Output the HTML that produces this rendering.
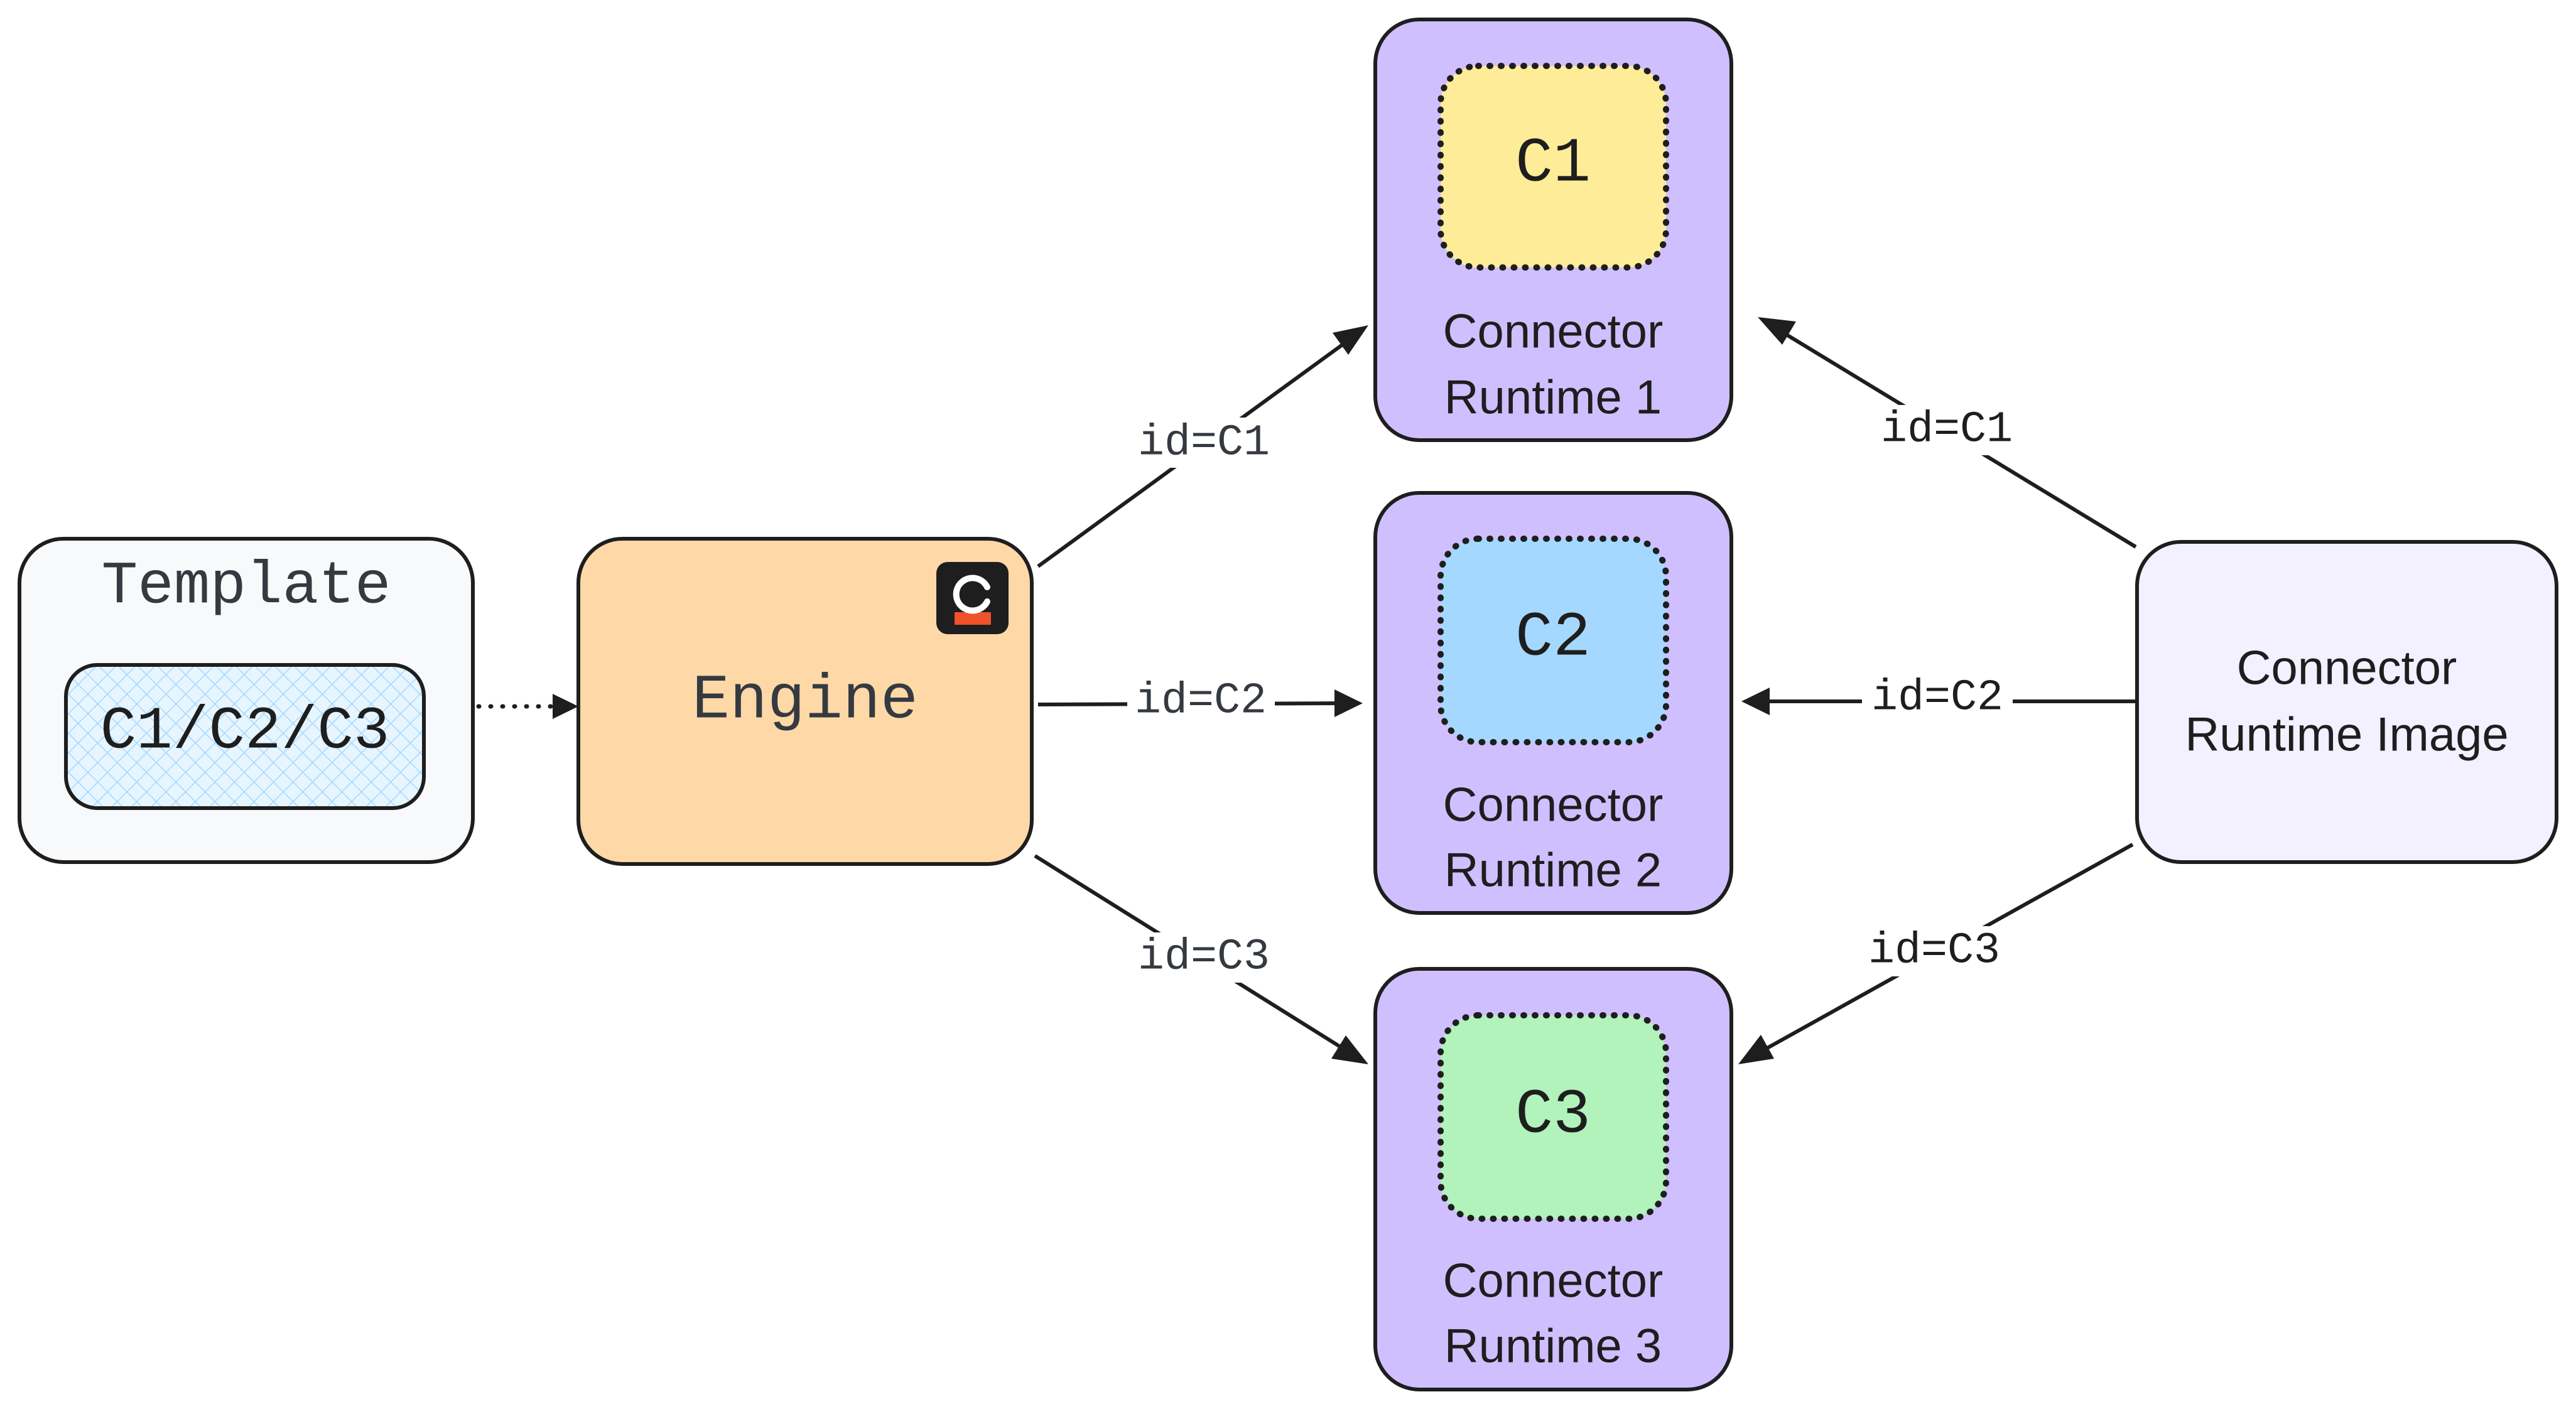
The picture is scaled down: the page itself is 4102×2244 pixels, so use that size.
<!DOCTYPE html>
<html><head><meta charset="utf-8"><style>
html,body{margin:0;padding:0;background:#fff;}
svg{display:block;}
.m{font-family:"Liberation Mono",monospace;fill:#1e1e1e;}
.h{font-family:"Liberation Sans",sans-serif;fill:#1e1e1e;}
</style></head><body>
<svg width="4102" height="2244" viewBox="0 0 4102 2244" xmlns="http://www.w3.org/2000/svg">
<defs>
<pattern id="hatch" width="22" height="22" patternUnits="userSpaceOnUse" patternTransform="rotate(45)">
<rect width="22" height="22" fill="#e7f5ff"/>
<line x1="0" y1="0" x2="0" y2="22" stroke="#a5d8ff" stroke-width="3"/>
<line x1="0" y1="0" x2="22" y2="0" stroke="#a5d8ff" stroke-width="3"/>
</pattern>
</defs>
<g stroke="#1e1e1e" stroke-width="6">
<rect x="31" y="858" width="722" height="515" rx="70" fill="#f8f9fa"/>
<rect x="105" y="1059" width="570" height="228" rx="50" fill="url(#hatch)"/>
<rect x="921" y="858" width="722" height="518" rx="70" fill="#ffd8a8"/>
<rect x="2190" y="31" width="567" height="670" rx="70" fill="#d0bfff"/>
<rect x="2294" y="105" width="359" height="321" rx="60" fill="#ffec99" stroke-dasharray="1 17" stroke-linecap="round" stroke-width="10"/>
<rect x="2190" y="785" width="567" height="669" rx="70" fill="#d0bfff"/>
<rect x="2294" y="858" width="359" height="324" rx="60" fill="#a5d8ff" stroke-dasharray="1 17" stroke-linecap="round" stroke-width="10"/>
<rect x="2190" y="1543" width="567" height="670" rx="70" fill="#d0bfff"/>
<rect x="2294" y="1617" width="359" height="324" rx="60" fill="#b2f2bb" stroke-dasharray="1 17" stroke-linecap="round" stroke-width="10"/>
<rect x="3403" y="863" width="668" height="510" rx="70" fill="#f3f0ff"/>
<line x1="762" y1="1125" x2="880" y2="1125" stroke-dasharray="1 18" stroke-linecap="round" stroke-width="7"/>
<line x1="1653" y1="902" x2="2150" y2="540"/>
<line x1="1653" y1="1122" x2="2140" y2="1120"/>
<line x1="1648" y1="1363" x2="2150" y2="1677"/>
<line x1="3401" y1="871" x2="2830" y2="524"/>
<line x1="3401" y1="1117" x2="2805" y2="1117"/>
<line x1="3396" y1="1345" x2="2800" y2="1677"/>
</g>
<g fill="#1e1e1e">
<polygon points="921,1125 880,1105 880,1145"/>
<polygon points="2179,518 2122,530 2147,565"/>
<polygon points="2170,1120 2125,1098 2125,1142"/>
<polygon points="2179,1695 2143,1649 2120,1686"/>
<polygon points="2799,505 2838,549 2860,512"/>
<polygon points="2773,1117 2818,1095 2818,1139"/>
<polygon points="2768,1695 2825,1686 2804,1648"/>
</g>
<rect x="1491" y="895" width="115" height="115" rx="18" fill="#1e1e1e"/>
<rect x="1520" y="975" width="58" height="20" fill="#f0522c"/>
<path d="M1572,935 A26,26 0 1 0 1572,958" fill="none" stroke="#fff" stroke-width="10" stroke-linecap="round"/>
<g fill="#fff">
<rect x="1795" y="665" width="244" height="80"/>
<rect x="1795" y="1077" width="235" height="80"/>
<rect x="1795" y="1485" width="244" height="80"/>
<rect x="2980" y="645" width="240" height="80"/>
<rect x="2965" y="1072" width="240" height="80"/>
<rect x="2960" y="1475" width="240" height="80"/>
</g>
<g class="m" font-size="70" text-anchor="middle" dominant-baseline="central">
<text x="1917" y="706" fill="#343a40">id=C1</text>
<text x="1912" y="1117" fill="#343a40">id=C2</text>
<text x="1917" y="1525" fill="#343a40">id=C3</text>
<text x="3100" y="685">id=C1</text>
<text x="3085" y="1112">id=C2</text>
<text x="3080" y="1515">id=C3</text>
<text x="392" y="934" font-size="96" fill="#343a40">Template</text>
<text x="390" y="1165" font-size="96">C1/C2/C3</text>
<text x="1282" y="1117" font-size="100" fill="#343a40">Engine</text>
<text x="2473" y="262" font-size="100">C1</text>
<text x="2473" y="1017" font-size="100">C2</text>
<text x="2473" y="1777" font-size="100">C3</text>
</g>
<g class="h" font-size="76" text-anchor="middle" dominant-baseline="central">
<text x="2473" y="528">Connector</text>
<text x="2473" y="633">Runtime 1</text>
<text x="2473" y="1282">Connector</text>
<text x="2473" y="1386">Runtime 2</text>
<text x="2473" y="2040">Connector</text>
<text x="2473" y="2144">Runtime 3</text>
<text x="3737" y="1064">Connector</text>
<text x="3737" y="1170">Runtime Image</text>
</g>
</svg>
</body></html>
